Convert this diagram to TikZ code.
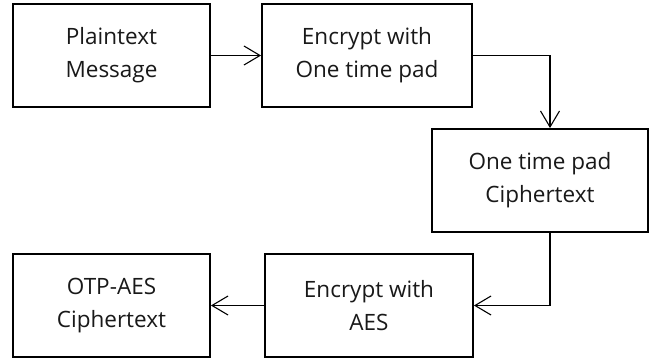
\documentclass[tikz,border=0pt]{standalone}
\usepackage{fontspec}
\setmainfont{Open Sans}
\usetikzlibrary{arrows.meta}
\begin{document}
\begin{tikzpicture}[x=1pt,y=-1pt,
  box/.style={draw=black, line width=1.9pt, fill=white, minimum height=103pt, inner sep=0pt,
    align=center, font=\fontsize{22.5}{33}\selectfont, text=black!90},
  conn/.style={draw=black, line width=1.1pt, -{Straight Barb[length=16pt,width=19pt,line width=1.1pt]}}]
\useasboundingbox[fill=white] (0,0) rectangle (655,358);
\node[box, minimum width=197pt] (b1) at (111.5,55.5) {Plaintext\\Message};
\node[box, minimum width=210pt] (b2) at (367,55.5) {Encrypt with\\One time pad};
\node[box, minimum width=216pt] (b3) at (540,180.5) {One time pad\\Ciphertext};
\node[box, minimum width=208pt] (b4) at (369,305.5) {Encrypt with\\AES};
\node[box, minimum width=197pt] (b5) at (111.5,305.5) {OTP-AES\\Ciphertext};
\draw[conn] (b1.east) -- (b2.west);
\draw[conn] (b2.east) -| ([xshift=10pt]b3.north);
\draw[conn] ([xshift=10pt]b3.south) |- (b4.east);
\draw[conn] (b4.west) -- (b5.east);
\end{tikzpicture}
\end{document}
